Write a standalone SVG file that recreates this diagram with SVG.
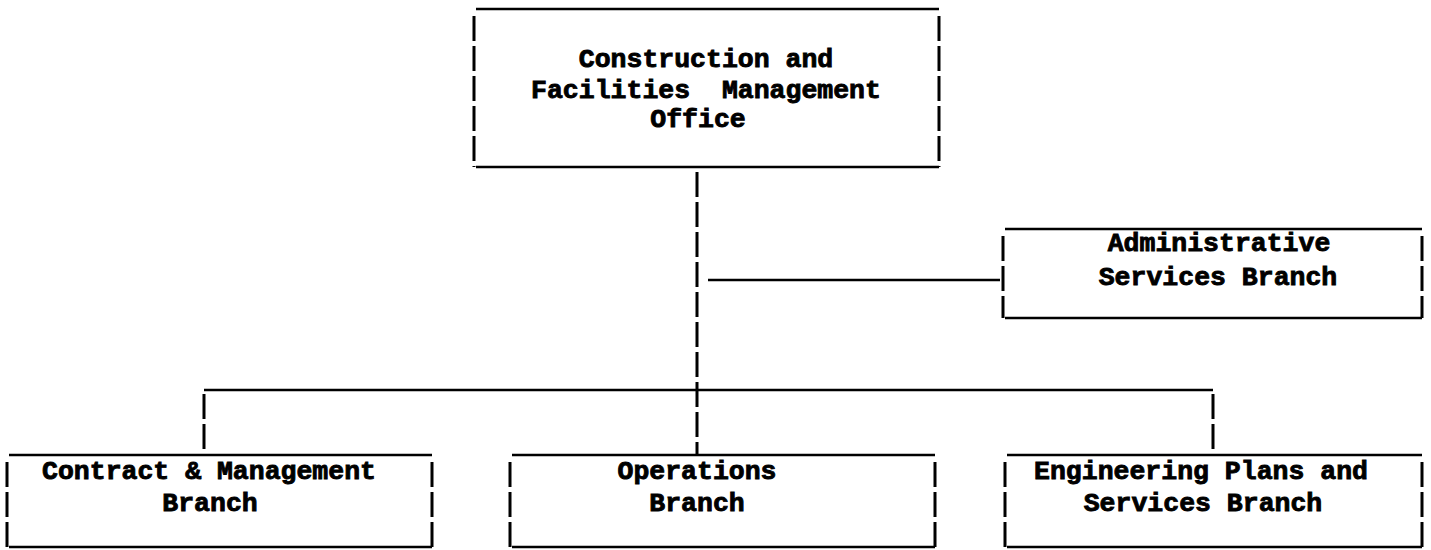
<svg xmlns="http://www.w3.org/2000/svg" width="1431" height="550" viewBox="0 0 1431 550">
  <style>
    .bg { fill: #ffffff; }
    .hline { stroke: #000; stroke-width: 2.6; fill: none; }
    .vline { stroke: #000; stroke-width: 3; fill: none; stroke-dasharray: 25 5; }
    .label { font-family: "Liberation Mono", "Courier New", monospace; font-weight: bold; font-size: 26.5px; fill: #000; stroke: #000; stroke-width: 0.9; text-anchor: middle; }
  </style>
  <rect class="bg" x="0" y="0" width="1431" height="550"/>

  <!-- Connectors: trunk, side branch, bus and drops -->
  <g id="connectors">
    <path class="vline" d="M697 172 V455"/>
    <path class="hline" d="M708 280 H1000"/>
    <path class="hline" d="M204 390 H1213"/>
    <path class="vline" d="M204 394 V455"/>
    <path class="vline" d="M1213 394 V455"/>
  </g>

  <!-- Office -->
  <g id="node-office">
    <path class="hline" d="M476 9 H939"/>
    <path class="hline" d="M476 167 H939"/>
    <path class="vline" d="M474 16 V167"/>
    <path class="vline" d="M939 16 V167"/>
    <text class="label" x="706" y="67">Construction and</text>
    <text class="label" x="706" y="98" xml:space="preserve">Facilities  Management</text>
    <text class="label" x="698" y="127">Office</text>
  </g>

  <!-- Administrative Services Branch -->
  <g id="node-admin">
    <path class="hline" d="M1005 229 H1422"/>
    <path class="hline" d="M1005 318 H1422"/>
    <path class="vline" d="M1003 236 V318"/>
    <path class="vline" d="M1422 236 V318"/>
    <text class="label" x="1219" y="251">Administrative</text>
    <text class="label" x="1218" y="285">Services Branch</text>
  </g>

  <!-- Contract & Management Branch -->
  <g id="node-contract">
    <path class="hline" d="M9 455 H432"/>
    <path class="hline" d="M9 547 H432"/>
    <path class="vline" d="M7 462 V548"/>
    <path class="vline" d="M432 462 V548"/>
    <text class="label" x="209" y="479">Contract &amp; Management</text>
    <text class="label" x="210" y="511">Branch</text>
  </g>

  <!-- Operations Branch -->
  <g id="node-operations">
    <path class="hline" d="M512 455 H935"/>
    <path class="hline" d="M512 547 H935"/>
    <path class="vline" d="M510 462 V548"/>
    <path class="vline" d="M935 462 V548"/>
    <text class="label" x="697" y="479">Operations</text>
    <text class="label" x="697" y="511">Branch</text>
  </g>

  <!-- Engineering Plans and Services Branch -->
  <g id="node-engineering">
    <path class="hline" d="M1007 455 H1422"/>
    <path class="hline" d="M1007 547 H1422"/>
    <path class="vline" d="M1005 462 V548"/>
    <path class="vline" d="M1422 462 V548"/>
    <text class="label" x="1201" y="479">Engineering Plans and</text>
    <text class="label" x="1203" y="511">Services Branch</text>
  </g>
</svg>
